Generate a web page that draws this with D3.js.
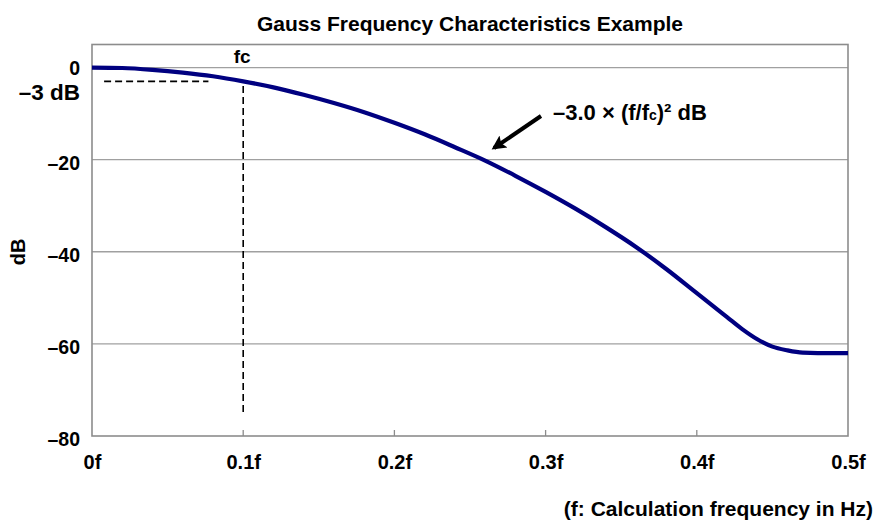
<!DOCTYPE html>
<html>
<head>
<meta charset="utf-8">
<script src="https://cdn.jsdelivr.net/npm/d3@7"></script>
<style>
  body { margin: 0; background: #fff; }
  text { font-family: "Liberation Sans", Arial, sans-serif; font-weight: bold; fill: #000; }
</style>
</head>
<body>
<svg id="chart"></svg>
<script>
// values
const freq = [0, 0.02, 0.04, 0.06, 0.08, 0.10, 0.12, 0.14, 0.16, 0.18, 0.20, 0.22, 0.24, 0.26, 0.28,
  0.30, 0.32, 0.34, 0.36, 0.38, 0.40, 0.41, 0.42, 0.43, 0.44, 0.45, 0.46, 0.47, 0.48, 0.50];
const gain = [0, -0.1, -0.5, -1.1, -1.9, -3.0, -4.3, -5.9, -7.7, -9.7, -12.0, -14.5, -17.3, -20.2, -23.5,
  -27.0, -30.7, -34.7, -39.0, -43.8, -49.0, -51.6, -54.2, -56.8, -59.0, -60.6, -61.4, -61.9, -62.0, -62.0];
const yTicks = [0, -20, -40, -60, -80];
const xTicks = [0, 0.1, 0.2, 0.3, 0.4, 0.5];
const xTickLabels = ["0f", "0.1f", "0.2f", "0.3f", "0.4f", "0.5f"];
const cutoff = 0.1;      // fc
const cutoffDb = -3;

const width = 875, height = 520;
const margin = { top: 44.5, right: 27, bottom: 84, left: 92 };

const svg = d3.select("#chart").attr("width", width).attr("height", height);

const x = d3.scaleLinear().domain([0, 0.5]).range([margin.left, width - margin.right]);
const y = d3.scaleLinear().domain([-80, 5]).range([height - margin.bottom, margin.top]);

// horizontal grid lines
svg.append("g")
  .selectAll("line")
  .data(yTicks.filter(d => d !== -80))
  .join("line")
    .attr("x1", x(0)).attr("x2", x(0.5))
    .attr("y1", d => y(d)).attr("y2", d => y(d))
    .attr("stroke", "#a0a0a0")
    .attr("stroke-width", 1.3);

// plot frame
svg.append("rect")
  .attr("x", x(0)).attr("y", y(5))
  .attr("width", x(0.5) - x(0)).attr("height", y(-80) - y(5))
  .attr("fill", "none")
  .attr("stroke", "#8c8c8c")
  .attr("stroke-width", 1.6);

// small inner ticks on the bottom edge
svg.append("g")
  .selectAll("line")
  .data(xTicks.slice(1, -1))
  .join("line")
    .attr("x1", d => x(d)).attr("x2", d => x(d))
    .attr("y1", y(-80)).attr("y2", y(-80) - 6)
    .attr("stroke", "#8c8c8c")
    .attr("stroke-width", 1.3);

// x axis labels
const xAxis = d3.axisBottom(x)
  .tickValues(xTicks)
  .tickFormat((d, i) => xTickLabels[i])
  .tickSize(0)
  .tickPadding(19);
svg.append("g")
  .attr("transform", `translate(0,${y(-80)})`)
  .call(xAxis)
  .call(g => g.select(".domain").remove())
  .selectAll("text")
    .style("font-size", "20px")
    .style("font-family", "'Liberation Sans', Arial, sans-serif")
    .style("font-weight", "bold");

// y axis labels (the 0 sits a little higher to leave room for the -3 dB note)
const yAxis = d3.axisLeft(y)
  .tickValues(yTicks)
  .tickFormat(d => d === 0 ? "0" : "\u2013" + Math.abs(d))
  .tickSize(0)
  .tickPadding(12);
svg.append("g")
  .attr("transform", `translate(${x(0)},0)`)
  .call(yAxis)
  .call(g => g.select(".domain").remove())
  .selectAll("text")
    .attr("dy", d => d === 0 ? "0.38em" : "0.5em")
    .style("font-size", "19.5px")
    .style("font-family", "'Liberation Sans', Arial, sans-serif")
    .style("font-weight", "bold");

// -3 dB guide lines
svg.append("line")
  .attr("x1", x(0.008)).attr("x2", x(0.077))
  .attr("y1", y(cutoffDb)).attr("y2", y(cutoffDb))
  .attr("stroke", "#000").attr("stroke-width", 1.6)
  .attr("stroke-dasharray", "7,4");
svg.append("line")
  .attr("x1", x(cutoff)).attr("x2", x(cutoff))
  .attr("y1", y(-4)).attr("y2", y(-75))
  .attr("stroke", "#000").attr("stroke-width", 1.6)
  .attr("stroke-dasharray", "7,4");

// response curve
const line = d3.line()
  .x((d, i) => x(freq[i]))
  .y(d => y(d))
  .curve(d3.curveMonotoneX);
svg.append("path")
  .datum(gain)
  .attr("d", line)
  .attr("fill", "none")
  .attr("stroke", "#000080")
  .attr("stroke-width", 4.2)
  .attr("stroke-linejoin", "round");

// arrow annotation
svg.append("defs").append("marker")
  .attr("id", "head")
  .attr("viewBox", "0 0 10 10")
  .attr("refX", 8).attr("refY", 5)
  .attr("markerWidth", 4.6).attr("markerHeight", 3.6)
  .attr("markerUnits", "strokeWidth")
  .attr("orient", "auto")
  .append("path")
    .attr("d", "M0,0 L10,5 L0,10 L2,5 Z")
    .attr("fill", "#000");
svg.append("line")
  .attr("x1", 541).attr("y1", 116)
  .attr("x2", 494).attr("y2", 148)
  .attr("stroke", "#000").attr("stroke-width", 4)
  .attr("marker-end", "url(#head)");

const formula = svg.append("text")
  .attr("x", 553).attr("y", 120)
  .style("font-size", "22px");
formula.append("tspan").text("\u20133.0 \u00d7 (f/f");
formula.append("tspan").text("c").style("font-size", "14px");
formula.append("tspan").text(")\u00b2 dB");

// labels
svg.append("text")
  .attr("x", 470).attr("y", 31)
  .attr("text-anchor", "middle")
  .style("font-size", "21px")
  .text("Gauss Frequency Characteristics Example");

svg.append("text")
  .attr("x", x(cutoff) - 1).attr("y", 63)
  .attr("text-anchor", "middle")
  .style("font-size", "19px")
  .text("fc");

svg.append("text")
  .attr("x", 80).attr("y", 99.5)
  .attr("text-anchor", "end")
  .style("font-size", "22.5px")
  .text("\u20133 dB");

svg.append("text")
  .attr("transform", "translate(25,252) rotate(-90)")
  .attr("text-anchor", "middle")
  .style("font-size", "20px")
  .text("dB");

svg.append("text")
  .attr("x", 873).attr("y", 516)
  .attr("text-anchor", "end")
  .style("font-size", "21px")
  .text("(f: Calculation frequency in Hz)");
</script>
</body>
</html>
